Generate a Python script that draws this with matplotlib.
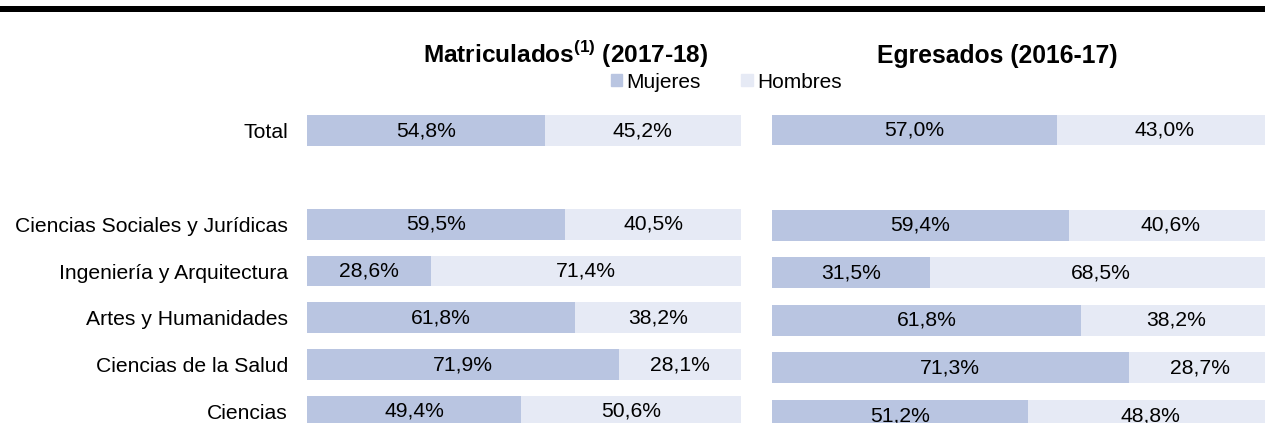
import numpy as np
import matplotlib
matplotlib.use("Agg")
import matplotlib.pyplot as plt
from matplotlib.patches import Patch, Rectangle

plt.rcParams['font.family'] = ['Liberation Sans', 'DejaVu Sans']
plt.rcParams['mathtext.fontset'] = 'custom'
plt.rcParams['mathtext.rm'] = 'Liberation Sans'
plt.rcParams['mathtext.bf'] = 'Liberation Sans:bold'

# Datos (%), el hueco tras "Total" es una fila vacía
categorias = ["Total", "", "Ciencias Sociales y Jurídicas", "Ingeniería y Arquitectura",
              "Artes y Humanidades", "Ciencias de la Salud", "Ciencias"]
matric_mujeres = [54.8, np.nan, 59.5, 28.6, 61.8, 71.9, 49.4]
matric_hombres = [45.2, np.nan, 40.5, 71.4, 38.2, 28.1, 50.6]
egres_mujeres = [57.0, np.nan, 59.4, 31.5, 61.8, 71.3, 51.2]
egres_hombres = [43.0, np.nan, 40.6, 68.5, 38.2, 28.7, 48.8]

col_muj = "#B9C5E1"
col_hom = "#E6EAF5"
fs = 15.2

W, H = 1265, 423
fig = plt.figure(figsize=(W / 100, H / 100), dpi=100)


def px_ax(x0, x1, y_top, y_bot):
    return fig.add_axes([x0 / W, (H - y_bot) / H, (x1 - x0) / W, (y_bot - y_top) / H])


def dibujar(ax, muj, hom, alto):
    y = np.arange(len(categorias))
    muj = np.array(muj)
    hom = np.array(hom)
    ok = ~np.isnan(muj)
    ax.barh(y[ok], muj[ok], height=alto, color=col_muj, linewidth=0)
    ax.barh(y[ok], hom[ok], left=muj[ok], height=alto, color=col_hom, linewidth=0)
    for yi, m, h in zip(y[ok], muj[ok], hom[ok]):
        ax.text(m / 2, yi, f"{m:.1f}%".replace(".", ","), ha="center", va="center", fontsize=fs)
        ax.text(m + h / 2, yi, f"{h:.1f}%".replace(".", ","), ha="center", va="center", fontsize=fs)
    ax.set_xlim(0, 100)
    ax.set_ylim(len(categorias) - 0.5, -0.5)
    for s in ax.spines.values():
        s.set_visible(False)
    ax.set_xticks([])
    ax.tick_params(axis="y", length=0, pad=13.7, labelsize=fs)


ax1 = px_ax(307, 741, 107.1, 434.9)
dibujar(ax1, matric_mujeres, matric_hombres, 0.66)
ax1.set_yticks(np.arange(len(categorias)))
ax1.set_yticklabels(categorias)

ax2 = px_ax(772, 1272, 106.2, 439.3)
dibujar(ax2, egres_mujeres, egres_hombres, 0.65)
ax2.set_yticks([])

# Títulos
fig.text(566 / W, 1 - 62.5 / H, r"Matriculados$^{\mathbf{(1)}}$ (2017-18)", ha="center",
         va="baseline", fontsize=17.6, fontweight="bold")
fig.text(997 / W, 1 - 62.5 / H, "Egresados (2016-17)", ha="center",
         va="baseline", fontsize=17.8, fontweight="bold")

# Leyenda
handles = [Patch(color=col_muj, label="Mujeres"), Patch(color=col_hom, label="Hombres")]
fig.legend(handles=handles, ncol=2, loc="center", bbox_to_anchor=(726 / W, 1 - 82 / H),
           frameon=False, fontsize=15, handlelength=0.55, handleheight=0.55,
           handletextpad=0.2, columnspacing=1.95, borderpad=0)

# Raya negra superior
fig.add_artist(Rectangle((0, 1 - 12 / H), 1, 6 / H, transform=fig.transFigure,
                         color="black", linewidth=0))

fig.savefig("out.png", dpi=100)
